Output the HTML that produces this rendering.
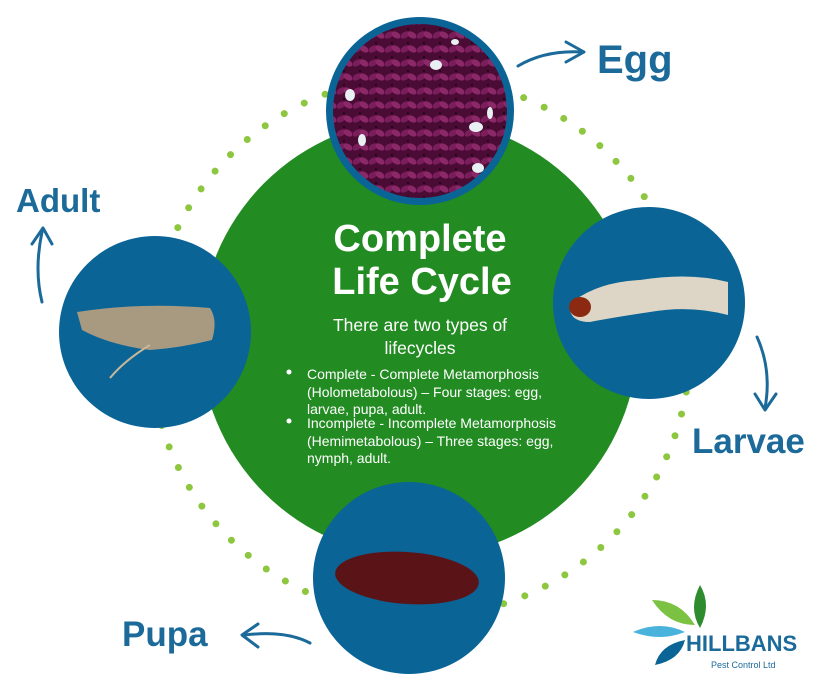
<!DOCTYPE html>
<html><head><meta charset="utf-8"><style>
html,body{margin:0;padding:0;background:#fff;}
svg{display:block;}
text{font-family:"Liberation Sans",Arial,sans-serif;}
</style></head><body>
<svg width="819" height="687" viewBox="0 0 819 687" xmlns="http://www.w3.org/2000/svg">
<defs>
<pattern id="knit" width="16" height="14" patternUnits="userSpaceOnUse">
<rect width="16" height="14" fill="#4a0b35"/>
<ellipse cx="5" cy="7" rx="5" ry="3" fill="#7a1d5a" transform="rotate(-30 5 7)"/>
<ellipse cx="12" cy="7" rx="5" ry="3" fill="#8a2868" transform="rotate(30 12 7)"/>
<circle cx="8" cy="1" r="1" fill="#1a0512"/>
</pattern>
</defs>
<!-- dotted ring -->
<circle cx="420" cy="347" r="270" fill="none" stroke="#8dc63f" stroke-width="7" stroke-linecap="round" stroke-dasharray="0 22.6"/>
<!-- green circle -->
<circle cx="419" cy="338" r="219" fill="#228b22"/>
<!-- egg -->
<circle cx="420" cy="111" r="94" fill="#0a6496"/>
<circle cx="420" cy="111" r="87" fill="url(#knit)"/>
<g fill="#e8f0f4">
<ellipse cx="436" cy="65" rx="6" ry="5"/><ellipse cx="350" cy="95" rx="5" ry="6"/>
<ellipse cx="476" cy="127" rx="7" ry="5"/><ellipse cx="490" cy="113" rx="3" ry="6"/>
<ellipse cx="362" cy="140" rx="4" ry="6"/><ellipse cx="478" cy="168" rx="6" ry="5"/>
<ellipse cx="455" cy="42" rx="4" ry="3"/>
</g>
<!-- larvae -->
<circle cx="649" cy="303" r="96" fill="#0a6496"/>
<path d="M575 300 Q600 282 640 280 Q690 272 728 282 L728 315 Q690 305 650 312 Q610 318 590 322 Q572 322 570 310 Z" fill="#ddd6c6"/>
<ellipse cx="580" cy="307" rx="11" ry="10" fill="#8b2a10"/>
<!-- adult -->
<circle cx="155" cy="332" r="96" fill="#0a6496"/>
<path d="M77 312 Q140 302 210 308 Q218 320 212 340 Q180 348 150 350 Q110 345 82 330 Z" fill="#a89a80"/>
<path d="M150 345 Q125 360 110 378" stroke="#c8b898" stroke-width="2" fill="none"/>
<!-- pupa -->
<circle cx="409" cy="578" r="96" fill="#0a6496"/>
<ellipse cx="407" cy="578" rx="72" ry="26" fill="#5a1418" transform="rotate(4 407 578)"/>
<!-- center text -->
<g fill="#fff" text-anchor="middle" font-weight="bold" font-size="38">
<text x="420" y="251">Complete</text>
<text x="422" y="294">Life Cycle</text>
</g>
<g fill="#fff" text-anchor="middle" font-size="17.5">
<text x="420" y="331">There are two types of</text>
<text x="420" y="354">lifecycles</text>
</g>
<g fill="#fff" font-size="14">
<circle cx="289" cy="372" r="2.5"/><circle cx="289" cy="421" r="2.5"/>
<text x="307" y="379">Complete - Complete Metamorphosis</text>
<text x="307" y="397">(Holometabolous) – Four stages: egg,</text>
<text x="307" y="414">larvae, pupa, adult.</text>
<text x="307" y="428">Incomplete - Incomplete Metamorphosis</text>
<text x="307" y="446">(Hemimetabolous) – Three stages: egg,</text>
<text x="307" y="463">nymph, adult.</text>
</g>
<!-- labels -->
<g fill="#1b6a9a" font-weight="bold">
<text x="597" y="73" font-size="40">Egg</text>
<text x="16" y="212" font-size="33">Adult</text>
<text x="692" y="453" font-size="35">Larvae</text>
<text x="122" y="646" font-size="35">Pupa</text>
</g>
<!-- arrows -->
<g fill="none" stroke="#1b6a9a" stroke-width="3" stroke-linejoin="round" stroke-linecap="round">
<path d="M518 66 Q545 50 582 52"/><path d="M566 42 L584 52 L566 62"/>
<path d="M42 302 Q34 270 42 232"/><path d="M32 244 L43 228 L52 244"/>
<path d="M757 337 Q772 370 765 408"/><path d="M755 394 L765 410 L776 394"/>
<path d="M310 643 Q285 630 245 635"/><path d="M258 624 L242 635 L258 647"/>
</g>
<!-- logo -->
<path d="M700 585 Q712 605 700 628 Q688 608 700 585Z" fill="#2e8b2e"/>
<path d="M652 600 Q680 600 695 625 Q668 625 652 600Z" fill="#7cc242"/>
<path d="M633 632 Q660 620 685 632 Q660 642 633 632Z" fill="#4ab3dc"/>
<path d="M655 665 Q660 645 685 640 Q680 660 655 665Z" fill="#0a6496"/>
<text x="686" y="651" font-size="22" font-weight="bold" fill="#1b6a9a">HILLBANS</text>
<text x="711" y="668" font-size="9" fill="#1b6a9a">Pest Control Ltd</text>
</svg>
</body></html>
